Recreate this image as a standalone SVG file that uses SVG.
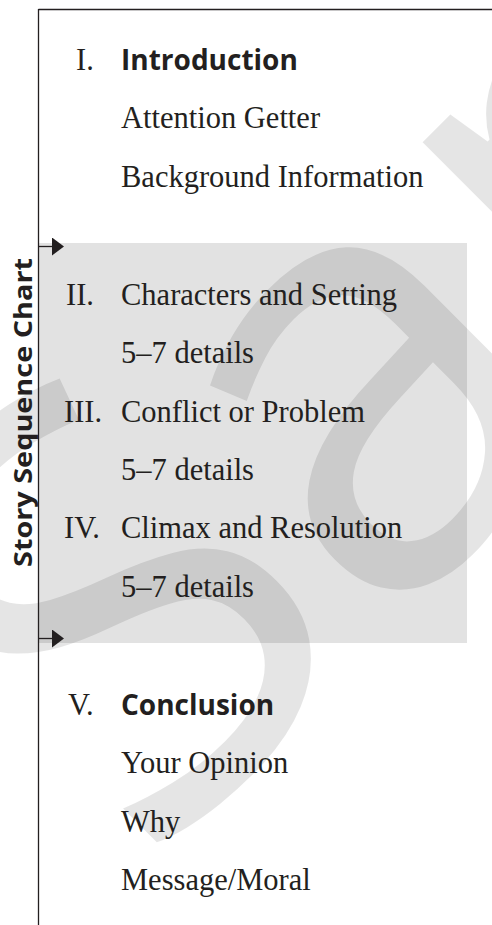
<svg xmlns="http://www.w3.org/2000/svg" width="492" height="925" viewBox="0 0 492 925">
<style>
.ser{font-family:"Liberation Serif","Times New Roman",serif;font-size:30.5px;fill:#231f20}
.hd{font-family:"Open Sans","Noto Sans",sans-serif;font-weight:700;font-size:28px;fill:#231f20}
.side{font-family:"Open Sans","Noto Sans",sans-serif;font-weight:700;font-size:25px;fill:#231f20}
.ln{stroke:#231f20;stroke-width:1.3;fill:none}
.wm{font-family:"Open Sans","Noto Sans",sans-serif;font-size:600px;fill:#000;fill-opacity:0.1}
</style>
<defs>
<marker id="ah" viewBox="0 0 12 18" refX="0" refY="9" markerWidth="12" markerHeight="18" markerUnits="userSpaceOnUse" orient="auto">
<path d="M0,0 L12,9 L0,18 Z" fill="#231f20"/>
</marker>
</defs>
<rect width="492" height="925" fill="#fff"/>
<rect id="middle-band" x="38.5" y="243" width="428.5" height="400" fill="#e2e2e2"/>
<text class="wm" x="0" y="0" transform="translate(145,874) rotate(-45)">Sample</text>
<g id="frame">
<line class="ln" x1="38.5" y1="9.5" x2="492" y2="9.5"/>
<line class="ln" x1="38.5" y1="9" x2="38.5" y2="925"/>
</g>
<g id="connectors">
<line class="ln" x1="38.5" y1="246.5" x2="52" y2="246.5" marker-end="url(#ah)"/>
<line class="ln" x1="38.5" y1="638.5" x2="52" y2="638.5" marker-end="url(#ah)"/>
</g>
<g id="side-label">
<text class="side" transform="translate(31.5,567) rotate(-90)" textLength="309" lengthAdjust="spacingAndGlyphs">Story Sequence Chart</text>
</g>
<g id="introduction">
<text class="ser" x="76" y="70">I.</text>
<text class="hd" x="121" y="70">Introduction</text>
<text class="ser" x="121" y="128.3">Attention Getter</text>
<text class="ser" x="121" y="186.7">Background Information</text>
</g>
<g id="characters-setting">
<text class="ser" x="66" y="305">II.</text>
<text class="ser" x="121" y="305">Characters and Setting</text>
<text class="ser" x="121" y="363.3">5–7 details</text>
</g>
<g id="conflict-problem">
<text class="ser" x="64" y="421.7">III.</text>
<text class="ser" x="121" y="421.7">Conflict or Problem</text>
<text class="ser" x="121" y="480">5–7 details</text>
</g>
<g id="climax-resolution">
<text class="ser" x="64" y="538.3">IV.</text>
<text class="ser" x="121" y="538.3">Climax and Resolution</text>
<text class="ser" x="121" y="596.7">5–7 details</text>
</g>
<g id="conclusion">
<text class="ser" x="68" y="715">V.</text>
<text class="hd" x="121" y="715">Conclusion</text>
<text class="ser" x="121" y="773.3">Your Opinion</text>
<text class="ser" x="121" y="831.7">Why</text>
<text class="ser" x="121" y="890">Message/Moral</text>
</g>
</svg>
